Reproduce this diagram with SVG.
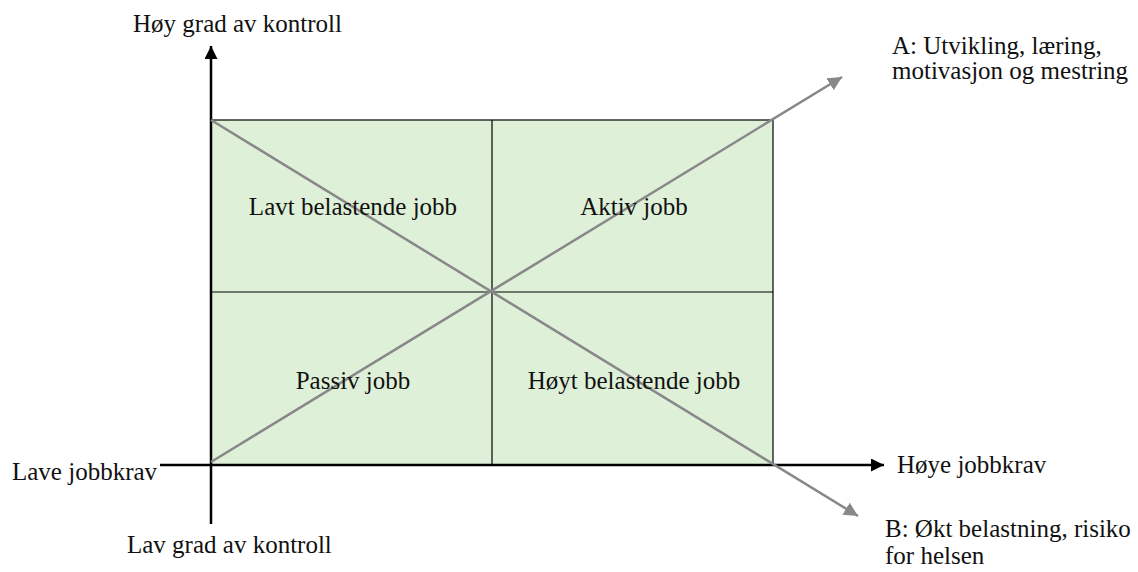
<svg xmlns="http://www.w3.org/2000/svg" width="1138" height="572" viewBox="0 0 1138 572">
<defs>
<marker id="ab" viewBox="0 0 10 10" refX="10" refY="5" markerUnits="userSpaceOnUse" markerWidth="13" markerHeight="13" orient="auto"><path d="M0,0L10,5L0,10z" fill="#000"/></marker>
<marker id="ag" viewBox="0 0 10 10" refX="10" refY="5" markerUnits="userSpaceOnUse" markerWidth="14" markerHeight="14" orient="auto"><path d="M0,0L10,5L0,10z" fill="#888"/></marker>
</defs>
<g id="grid">
<rect x="211" y="120" width="562" height="345" fill="#dff0d8" stroke="#000" stroke-width="1.2"/>
<line x1="492" y1="120" x2="492" y2="465" stroke="#000" stroke-width="1.2"/>
<line x1="211" y1="292" x2="773" y2="292" stroke="#000" stroke-width="1.2"/>
</g>
<g id="connectors" fill="none">
<line x1="211" y1="524" x2="211" y2="46" stroke="#000" stroke-width="2.5" marker-end="url(#ab)"/>
<line x1="160" y1="465" x2="884" y2="465" stroke="#000" stroke-width="2.5" marker-end="url(#ab)"/>
<line x1="211" y1="120" x2="858" y2="516" stroke="#888" stroke-width="2.5" marker-end="url(#ag)"/>
<line x1="211" y1="462" x2="842" y2="77" stroke="#888" stroke-width="2.5" marker-end="url(#ag)"/>
</g>
<g id="q1"><text style="font-family:'Liberation Serif',serif;font-size:25px" fill="#111" text-anchor="middle" x="353" y="215">Lavt belastende jobb</text></g>
<g id="q2"><text style="font-family:'Liberation Serif',serif;font-size:25px" fill="#111" text-anchor="middle" x="634" y="215">Aktiv jobb</text></g>
<g id="q3"><text style="font-family:'Liberation Serif',serif;font-size:25px" fill="#111" text-anchor="middle" x="353" y="389">Passiv jobb</text></g>
<g id="q4"><text style="font-family:'Liberation Serif',serif;font-size:25px" fill="#111" text-anchor="middle" x="634" y="389">Høyt belastende jobb</text></g>
<g id="top-label"><text style="font-family:'Liberation Serif',serif;font-size:25px" fill="#111" x="133" y="32">Høy grad av kontroll</text></g>
<g id="bottom-label"><text style="font-family:'Liberation Serif',serif;font-size:25px" fill="#111" x="127" y="553">Lav grad av kontroll</text></g>
<g id="left-label"><text style="font-family:'Liberation Serif',serif;font-size:25px" fill="#111" x="12" y="480">Lave jobbkrav</text></g>
<g id="right-label"><text style="font-family:'Liberation Serif',serif;font-size:25px" fill="#111" x="897" y="473">Høye jobbkrav</text></g>
<g id="outcome-a"><text style="font-family:'Liberation Serif',serif;font-size:25px" fill="#111" x="892" y="54">A: Utvikling, læring,</text><text style="font-family:'Liberation Serif',serif;font-size:25px" fill="#111" x="892" y="79">motivasjon og mestring</text></g>
<g id="outcome-b"><text style="font-family:'Liberation Serif',serif;font-size:25px" fill="#111" x="885" y="537">B: Økt belastning, risiko</text><text style="font-family:'Liberation Serif',serif;font-size:25px" fill="#111" x="885" y="564">for helsen</text></g>
</svg>
